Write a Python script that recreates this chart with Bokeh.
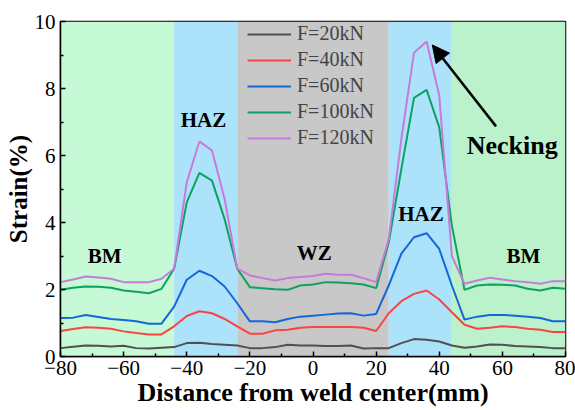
from bokeh.plotting import figure
from bokeh.models import (BoxAnnotation, Legend, LegendItem, Label, Arrow, NormalHead,
                          FixedTicker, Range1d)
from bokeh.embed import file_html
from bokeh.resources import INLINE

# ---------------- data ----------------
distance = [-80, -76, -72, -68, -64, -60, -56, -52, -48, -44, -40, -36, -32, -28, -24,
            -20, -16, -12, -8, -4, 0, 4, 8, 12, 16, 20,
            24, 28, 32, 36, 40, 44, 48, 52, 56, 60, 64, 68, 72, 76, 80]

strain_20kN = [0.25, 0.29, 0.33, 0.32, 0.30, 0.32, 0.25, 0.24, 0.26, 0.28, 0.40, 0.41, 0.37, 0.35, 0.33,
               0.25, 0.25, 0.28, 0.35, 0.33, 0.33, 0.31, 0.31, 0.33, 0.24, 0.25,
               0.25, 0.40, 0.52, 0.50, 0.45, 0.33, 0.26, 0.30, 0.36, 0.35, 0.31, 0.30, 0.28, 0.25, 0.25]
strain_40kN = [0.76, 0.82, 0.87, 0.86, 0.83, 0.75, 0.70, 0.66, 0.66, 0.90, 1.21, 1.35, 1.29, 1.12, 0.90,
               0.68, 0.68, 0.78, 0.80, 0.86, 0.88, 0.88, 0.88, 0.88, 0.86, 0.76,
               1.29, 1.65, 1.87, 1.97, 1.70, 1.32, 0.95, 0.83, 0.86, 0.90, 0.88, 0.83, 0.80, 0.73, 0.73]
strain_60kN = [1.15, 1.16, 1.24, 1.18, 1.12, 1.09, 1.05, 0.98, 0.98, 1.49, 2.29, 2.56, 2.40, 2.09, 1.59,
               1.05, 1.05, 1.02, 1.12, 1.19, 1.22, 1.25, 1.28, 1.29, 1.22, 1.27,
               2.12, 3.07, 3.56, 3.68, 3.21, 2.12, 1.10, 1.19, 1.24, 1.24, 1.22, 1.19, 1.15, 1.05, 1.05]
strain_100kN = [1.99, 2.05, 2.09, 2.08, 2.05, 1.97, 1.93, 1.89, 2.02, 2.62, 4.60, 5.48, 5.25, 4.10, 2.62,
                2.07, 2.04, 2.01, 1.99, 2.12, 2.15, 2.22, 2.21, 2.19, 2.15, 2.04,
                3.40, 5.60, 7.72, 7.96, 6.84, 3.90, 1.99, 2.12, 2.15, 2.14, 2.12, 2.02, 1.97, 2.05, 2.02]
strain_120kN = [2.22, 2.30, 2.39, 2.36, 2.32, 2.22, 2.22, 2.22, 2.32, 2.62, 5.20, 6.42, 6.15, 4.70, 2.62,
                2.42, 2.34, 2.27, 2.34, 2.37, 2.40, 2.47, 2.44, 2.44, 2.34, 2.22,
                3.50, 6.50, 9.07, 9.40, 7.79, 3.00, 2.17, 2.27, 2.35, 2.30, 2.25, 2.22, 2.17, 2.25, 2.25]

series_labels = ["F=20kN", "F=40kN", "F=60kN", "F=100kN", "F=120kN"]
series_colors = ["#505050", "#FA4444", "#1566D8", "#10A063", "#C87ADC"]

# zones: (start, end, colour)
zone_bounds = [(-80, -44), (-44, -24), (-24, 24), (24, 44), (44, 80)]
zone_colors = ["#C6F9D5", "#ADE3FA", "#C8C8C8", "#ADE3FA", "#BBF2CB"]

zone_texts = ["BM", "HAZ", "WZ", "HAZ", "BM"]
zone_text_x = [-66, -34.7, 0.4, 34.2, 66.7]
zone_text_y = [3.0, 7.07, 3.09, 4.26, 3.01]

x_ticks = [-80, -60, -40, -20, 0, 20, 40, 60, 80]
y_ticks = [0, 2, 4, 6, 8, 10]

FONT = "Liberation Serif"

p = figure(width=575, height=410, output_backend="svg", toolbar_location=None,
           x_range=Range1d(-80, 80), y_range=Range1d(0, 10),
           min_border_left=60, min_border_right=10, min_border_top=21, min_border_bottom=54,
           background_fill_color="white", border_fill_color="white")

for (a, b), c in zip(zone_bounds, zone_colors):
    p.add_layout(BoxAnnotation(left=a, right=b, fill_color=c, fill_alpha=1.0,
                               line_alpha=0, level="underlay"))

renderers = []
series = [strain_20kN, strain_40kN, strain_60kN, strain_100kN, strain_120kN]
for ys, col in zip(series, series_colors):
    r = p.line(distance, ys, line_color=col, line_width=2)
    renderers.append(r)

items = [LegendItem(label=l, renderers=[r]) for l, r in zip(series_labels, renderers)]
legend = Legend(items=items, location=(187, 207), padding=0, margin=0, spacing=3,
                glyph_width=44, glyph_height=22, label_height=22, label_standoff=6,
                label_text_font=FONT, label_text_font_size="20px",
                background_fill_alpha=0, border_line_alpha=0)
p.add_layout(legend)

for t, x, y in zip(zone_texts, zone_text_x, zone_text_y):
    p.add_layout(Label(x=x, y=y, text=t, text_align="center", text_baseline="middle",
                       text_font=FONT, text_font_size="21px", text_font_style="bold",
                       text_color="black"))

p.add_layout(Label(x=63.1, y=6.3, text="Necking", text_align="center", text_baseline="middle",
                   text_font=FONT, text_font_size="26px", text_font_style="bold",
                   text_color="black"))
p.add_layout(Arrow(x_start=58.0, y_start=6.87, x_end=37.8, y_end=9.3, line_width=2.5,
                   line_color="black",
                   end=NormalHead(size=17, fill_color="black", line_color="black")))

p.xgrid.visible = False
p.ygrid.visible = False
p.outline_line_color = "black"
p.outline_line_width = 1.5
p.outline_line_alpha = 1

for ax in (p.xaxis[0], p.yaxis[0]):
    ax.axis_line_width = 1.5
    ax.major_tick_in = 5
    ax.major_tick_out = 0
    ax.minor_tick_in = 3
    ax.minor_tick_out = 0
    ax.major_tick_line_width = 1.5
    ax.minor_tick_line_width = 1.5
    ax.major_label_text_font = FONT
    ax.major_label_text_font_size = "21px"
    ax.major_label_text_color = "black"
    ax.axis_label_text_font = FONT
    ax.axis_label_text_font_style = "bold"
    ax.axis_label_text_font_size = "26px"
    ax.axis_label_text_color = "black"

p.yaxis.axis_label_text_font_size = "25px"
p.xaxis.ticker = FixedTicker(ticks=x_ticks, minor_ticks=[-70, -50, -30, -10, 10, 30, 50, 70])
p.yaxis.ticker = FixedTicker(ticks=y_ticks, minor_ticks=[1, 3, 5, 7, 9])
p.xaxis.major_label_overrides = {t: (str(t).replace("-", "\u2212")) for t in x_ticks}
p.xaxis.axis_label = "Distance from weld center(mm)"
p.yaxis.axis_label = "Strain(%)"
p.xaxis.major_label_standoff = 4
p.xaxis.axis_label_standoff = 0
p.yaxis.major_label_standoff = 5
p.yaxis.axis_label_standoff = 0

open("out.html", "w").write(file_html(p, INLINE))
